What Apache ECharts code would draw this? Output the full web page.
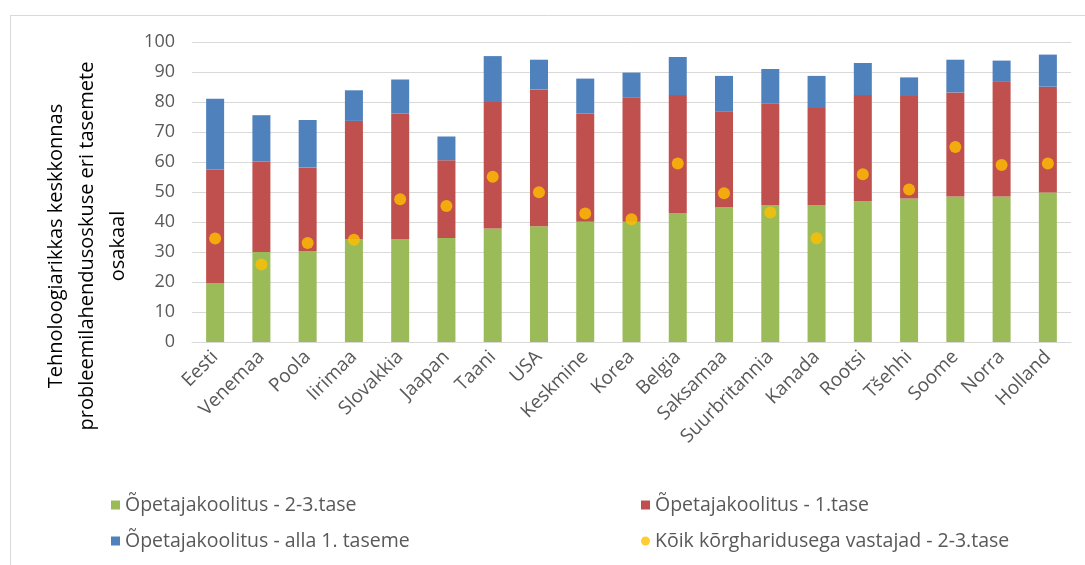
<!DOCTYPE html>
<html>
<head>
<meta charset="utf-8">
<script src="https://cdn.jsdelivr.net/npm/echarts@6/dist/echarts.min.js"></script>
<style>
  html, body { margin: 0; padding: 0; background: #fff; }
  #chart { width: 1085px; height: 565px; }
</style>
</head>
<body>
<div id="chart"></div>
<script>
// Countries on the category axis
const countries = ['Eesti', 'Venemaa', 'Poola', 'Iirimaa', 'Slovakkia', 'Jaapan', 'Taani', 'USA',
  'Keskmine', 'Korea', 'Belgia', 'Saksamaa', 'Suurbritannia', 'Kanada', 'Rootsi', 'Tšehhi',
  'Soome', 'Norra', 'Holland'];

// Stacked shares (%) among respondents with teacher training
const level23 = [19.7, 30.0, 30.3, 34.3, 34.3, 34.7, 37.8, 38.6, 40.1, 40.1, 43.0, 45.0, 45.7, 45.7, 47.0, 47.8, 48.5, 48.5, 49.8];
const level1 = [37.8, 30.1, 27.9, 39.4, 41.8, 25.9, 42.2, 45.6, 36.0, 41.5, 39.3, 31.9, 33.9, 32.3, 35.3, 34.2, 34.7, 38.2, 35.3];
const belowLevel1 = [23.6, 15.5, 15.8, 10.2, 11.4, 7.9, 15.3, 9.9, 11.7, 8.2, 12.7, 11.8, 11.4, 10.7, 10.7, 6.2, 10.9, 7.1, 10.7];

// All tertiary-educated respondents at level 2-3
const allTertiary23 = [34.5, 25.8, 33.0, 34.1, 47.6, 45.3, 55.1, 49.9, 42.8, 40.9, 59.5, 49.6, 43.2, 34.6, 55.9, 50.8, 65.0, 59.0, 59.5];

const yTicks = { min: 0, max: 100, interval: 10 };

const seriesNames = [
  'Õpetajakoolitus - 2-3.tase',
  'Õpetajakoolitus - 1.tase',
  'Õpetajakoolitus - alla 1. taseme',
  'Kõik kõrgharidusega vastajad - 2-3.tase'
];

const FONT = '"Open Sans", "Noto Sans", sans-serif';
const GREY = '#595959';

const chart = echarts.init(document.getElementById('chart'), null, { renderer: 'canvas' });

const legendText = { color: GREY, fontSize: 19.5, fontFamily: FONT };

chart.setOption({
  animation: false,
  backgroundColor: '#fff',
  grid: { left: 192, right: 14, top: 42, bottom: 223, containLabel: false },
  legend: [
    {
      orient: 'vertical', left: 106, top: 490, itemGap: 16,
      itemWidth: 9, itemHeight: 9,
      textStyle: legendText,
      data: [{ name: seriesNames[0], icon: 'rect' }, { name: seriesNames[2], icon: 'rect' }]
    },
    {
      orient: 'vertical', left: 636, top: 490, itemGap: 16,
      itemWidth: 9, itemHeight: 9,
      textStyle: legendText,
      data: [{ name: seriesNames[1], icon: 'rect' }, { name: seriesNames[3], icon: 'circle' }]
    }
  ],
  xAxis: {
    type: 'category',
    data: countries,
    axisLine: { lineStyle: { color: '#D9D9D9', width: 1 } },
    axisTick: { show: false },
    axisLabel: {
      rotate: 45, interval: 0, margin: 12,
      color: GREY, fontSize: 19, fontFamily: FONT
    }
  },
  yAxis: {
    type: 'value',
    min: yTicks.min, max: yTicks.max, interval: yTicks.interval,
    axisLine: { show: false },
    axisTick: { show: false },
    splitLine: { lineStyle: { color: '#D9D9D9', width: 1 } },
    axisLabel: { color: GREY, fontSize: 18, fontFamily: FONT, margin: 17 }
  },
  graphic: [
    // chart frame (top and left edges)
    { type: 'line', shape: { x1: 10, y1: 15.5, x2: 1085, y2: 15.5 }, style: { stroke: '#D9D9D9', lineWidth: 1 } },
    { type: 'line', shape: { x1: 10.5, y1: 15, x2: 10.5, y2: 565 }, style: { stroke: '#D9D9D9', lineWidth: 1 } },
    {
      type: 'text',
      x: 87, y: 246,
      rotation: Math.PI / 2,
      style: {
        text: 'Tehnoloogiarikkas keskkonnas\nprobleemilahendusoskuse eri tasemete\nosakaal',
        fill: '#000',
        font: '20px ' + FONT,
        lineHeight: 31,
        textAlign: 'center',
        textVerticalAlign: 'middle'
      }
    }
  ],
  series: [
    {
      name: seriesNames[0], type: 'bar', stack: 'total', barWidth: 18,
      itemStyle: { color: '#9BBB59' }, data: level23
    },
    {
      name: seriesNames[1], type: 'bar', stack: 'total', barWidth: 18,
      itemStyle: { color: '#C0504D' }, data: level1
    },
    {
      name: seriesNames[2], type: 'bar', stack: 'total', barWidth: 18,
      itemStyle: { color: '#4F81BD' }, data: belowLevel1
    },
    {
      name: seriesNames[3], type: 'scatter', symbol: 'circle', symbolSize: 12, z: 5,
      itemStyle: { color: '#FFC000' }, data: allTertiary23
    }
  ]
});
</script>
</body>
</html>
